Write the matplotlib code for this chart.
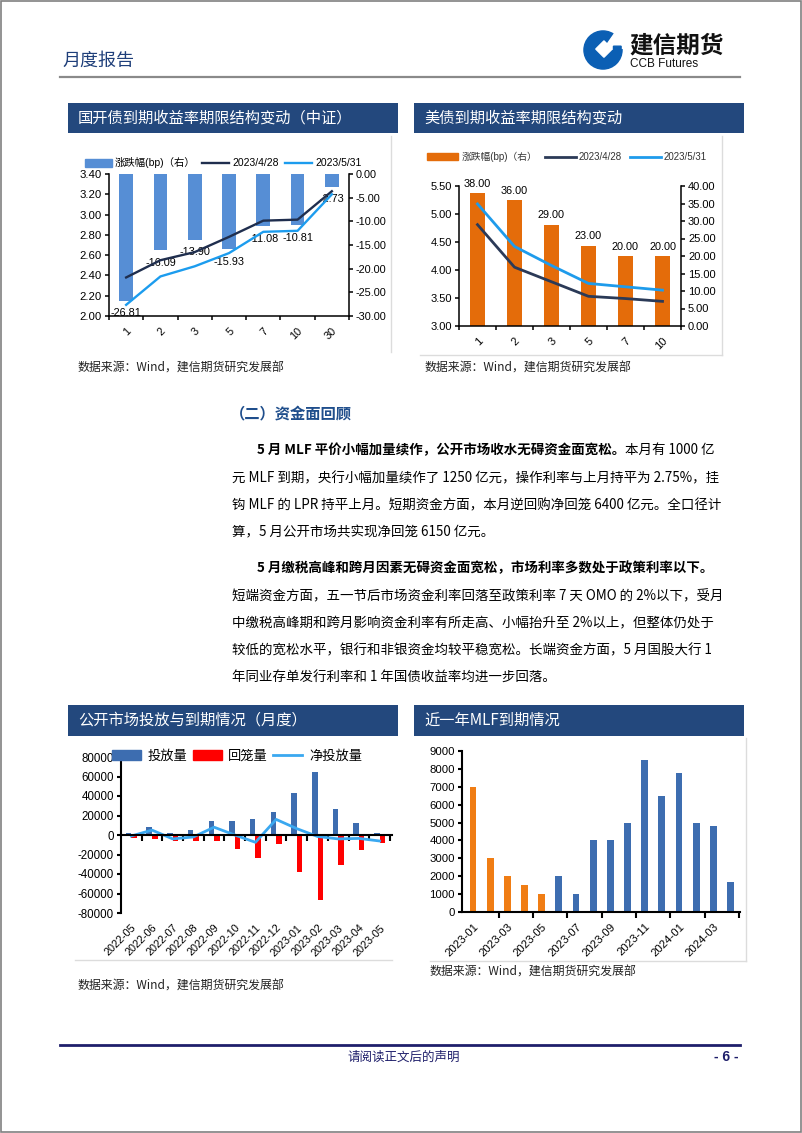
import numpy as np
import matplotlib
matplotlib.use("Agg")
import matplotlib.pyplot as plt
from matplotlib.patches import Rectangle, Patch, Circle, Polygon, Wedge
from matplotlib.lines import Line2D
from matplotlib.text import Annotation
from matplotlib.ticker import FormatStrFormatter

plt.rcParams['font.family'] = ['Liberation Sans', 'Noto Sans CJK SC']
plt.rcParams['axes.unicode_minus'] = False

W, H = 802, 1133
CJK = ['Noto Sans CJK SC', 'DejaVu Sans']

# === data ===
cdb_tenors = ['1', '2', '3', '5', '7', '10', '30']
cdb_0428 = [2.38, 2.55, 2.63, 2.78, 2.94, 2.95, 3.23]
cdb_0531 = [2.11, 2.39, 2.49, 2.62, 2.83, 2.84, 3.20]
cdb_chg = [-26.81, -16.09, -13.90, -15.93, -11.08, -10.81, -2.73]

ust_tenors = ['1', '2', '3', '5', '7', '10']
ust_0428 = [4.81, 4.05, 3.79, 3.53, 3.49, 3.44]
ust_0531 = [5.18, 4.42, 4.08, 3.76, 3.70, 3.64]
ust_chg = [38.00, 36.00, 29.00, 23.00, 20.00, 20.00]

omo_months = ['2022-05', '2022-06', '2022-07', '2022-08', '2022-09', '2022-10', '2022-11',
              '2022-12', '2023-01', '2023-02', '2023-03', '2023-04', '2023-05']
omo_inject = [2000, 8000, 2000, 5000, 14000, 14000, 16000, 24000, 43000, 65000, 26500, 12000, 2350]
omo_withdraw = [-3000, -4000, -6000, -6000, -6500, -14500, -24000, -9600, -37600, -66700, -31000, -15700, -8500]
omo_net = [-1000, 5000, -4000, -2000, 8000, 0, -7500, 16000, 6500, -1500, -4000, -3500, -6150]

mlf_months = ['2023-01', '2023-02', '2023-03', '2023-04', '2023-05', '2023-06', '2023-07', '2023-08',
              '2023-09', '2023-10', '2023-11', '2023-12', '2024-01', '2024-02', '2024-03', '2024-04']
mlf_maturity = [7000, 3000, 2000, 1500, 1000, 2000, 1000, 4000, 4000, 5000, 8500, 6500, 7790, 4990, 4810, 1700]
report_month = '2023-05'

para1 = [
    "元 MLF 到期，央行小幅加量续作了 1250 亿元，操作利率与上月持平为 2.75%，挂",
    "钩 MLF 的 LPR 持平上月。短期资金方面，本月逆回购净回笼 6400 亿元。全口径计",
    "算，5 月公开市场共实现净回笼 6150 亿元。",
]
para2 = [
    "短端资金方面，五一节后市场资金利率回落至政策利率 7 天 OMO 的 2%以下，受月",
    "中缴税高峰期和跨月影响资金利率有所走高、小幅抬升至 2%以上，但整体仍处于",
    "较低的宽松水平，银行和非银资金均较平稳宽松。长端资金方面，5 月国股大行 1",
    "年同业存单发行利率和 1 年国债收益率均进一步回落。",
]

NAVY = '#23487D'


def fx(x):
    return x / W


def fy(y):
    return 1 - y / H


def box(x0, y0, x1, y1):
    return [fx(x0), fy(y1), (x1 - x0) / W, (y1 - y0) / H]


fig = plt.figure(figsize=(W / 100, H / 100), dpi=100)


def hline(x0, x1, y, **kw):
    fig.add_artist(Line2D([fx(x0), fx(x1)], [fy(y), fy(y)], transform=fig.transFigure, **kw))


def vline(x, y0, y1, **kw):
    fig.add_artist(Line2D([fx(x), fx(x)], [fy(y0), fy(y1)], transform=fig.transFigure, **kw))


def title_bar(x0, x1, y0, y1, text):
    fig.add_artist(Rectangle((fx(x0), fy(y1)), (x1 - x0) / W, (y1 - y0) / H,
                             transform=fig.transFigure, color=NAVY, lw=0))
    fig.text(fx(x0 + 10), fy((y0 + y1) / 2), text, color='white', fontsize=11,
             family=CJK, va='center', ha='left')


# page frame, header, footer
fig.add_artist(Rectangle((0.0008, 0.0006), 0.9984, 0.9988, transform=fig.transFigure,
                         fill=False, edgecolor='#808080', lw=1.2))
fig.text(fx(62), fy(61), "月度报告", fontsize=13, color='#1F3F7A', family=CJK, va='center')
hline(60, 740, 77, color='#8a8a8a', lw=1.6)

logo = fig.add_axes(box(583, 30, 623, 70))
logo.set_xlim(-1.05, 1.05)
logo.set_ylim(-1.05, 1.05)
logo.set_aspect('equal')
logo.axis('off')
logo.add_patch(Circle((0, 0), 1.0, color='#0B5FB4'))
logo.add_patch(Wedge((0, 0), 1.1, 5, 55, width=0.7, color='white'))
logo.add_patch(Polygon([(0.05, 0.48), (0.48, 0.05), (0.05, -0.38), (-0.38, 0.05)], color='white'))
logo.add_patch(Polygon([(0.55, 0.2), (0.95, 0.2), (0.95, -0.2), (0.55, -0.05)], color='#0B5FB4'))
fig.text(fx(629), fy(46), "建信期货", fontsize=17, weight='bold', family=CJK, va='center', color='#111111')
fig.text(fx(630), fy(64), "CCB Futures", fontsize=8.5, va='center', color='#111111')

hline(60, 740, 1045, color='#1F1F6B', lw=2)
fig.text(fx(404), fy(1057), "请阅读正文后的声明", fontsize=9, family=CJK, color='#1F1F6B',
         ha='center', va='center')
fig.text(fx(739), fy(1057), "- 6 -", fontsize=10, color='#1F1F6B', ha='right', va='center', weight='bold')

# chart title bars
title_bar(68, 398, 103, 133, "国开债到期收益率期限结构变动（中证）")
title_bar(414, 744, 103, 133, "美债到期收益率期限结构变动")
title_bar(68, 398, 705, 736, "公开市场投放与到期情况（月度）")
title_bar(414, 744, 705, 736, "近一年MLF到期情况")

# light panel borders
vline(391, 136, 352, color='#dcdcdc', lw=1)
vline(722, 136, 355, color='#dcdcdc', lw=1)
hline(420, 722, 355, color='#dcdcdc', lw=1)
hline(75, 392, 960, color='#dcdcdc', lw=1)
hline(430, 746, 961, color='#dcdcdc', lw=1)
vline(746, 738, 961, color='#dcdcdc', lw=1)

src = "数据来源：Wind，建信期货研究发展部"
fig.text(fx(78), fy(368), src, fontsize=8.6, family=CJK, style='italic', va='center', color='#222222')
fig.text(fx(424), fy(368), src, fontsize=8.6, family=CJK, style='italic', va='center', color='#222222')
fig.text(fx(77), fy(986), src, fontsize=8.6, family=CJK, style='italic', va='center', color='#222222')
fig.text(fx(430), fy(972), src, fontsize=8.6, family=CJK, style='italic', va='center', color='#222222')


def style_axes(ax, lw=1.1, size=8):
    for s in ['top', 'right', 'left', 'bottom']:
        ax.spines[s].set_visible(False)
    ax.tick_params(colors='black', labelsize=size, width=lw, length=3, pad=2)


# === chart 1: CDB curve ===
x1 = np.arange(len(cdb_tenors))
axb1 = fig.add_axes(box(109, 174, 349, 316))
axl1 = axb1.twinx()
axb1.yaxis.tick_right()
axl1.yaxis.tick_left()
style_axes(axb1, size=7.8)
style_axes(axl1, size=8.2)
axb1.spines['right'].set_visible(True)
axb1.spines['bottom'].set_visible(True)
axl1.spines['left'].set_visible(True)
for ax in (axb1, axl1):
    ax.spines['right'].set_linewidth(1.1)
    ax.spines['left'].set_linewidth(1.1)
    ax.spines['bottom'].set_linewidth(1.1)
bars1 = axb1.bar(x1, cdb_chg, width=0.4, color='#568ED5', zorder=1)
axb1.set_ylim(-30, 0)
axb1.set_yticks(np.arange(-30, 0.1, 5))
axb1.yaxis.set_major_formatter(FormatStrFormatter('%.2f'))
for xi, v in zip(x1, cdb_chg):
    axb1.annotate(f"{v:.2f}", (xi, v), xytext=(0, -9), textcoords='offset points',
                  ha='center', va='center', fontsize=7.8)
l1a, = axl1.plot(x1, cdb_0428, color='#1F2E4E', lw=1.7)
l1b, = axl1.plot(x1, cdb_0531, color='#1C9CEE', lw=1.7)
axl1.set_ylim(2.0, 3.4)
axl1.set_yticks(np.arange(2.0, 3.41, 0.2))
axl1.yaxis.set_major_formatter(FormatStrFormatter('%.2f'))
axb1.set_xlim(-0.5, len(x1) - 0.5)
axb1.set_xticks(x1)
axb1.set_xticklabels(cdb_tenors, rotation=45, ha='right', rotation_mode='anchor')
axb1.tick_params(axis='x', which='major', length=0, pad=7)
axb1.set_xticks(np.arange(-0.5, len(x1), 1), minor=True)
axb1.tick_params(axis='x', which='minor', length=3, width=1.1)
fig.legend([Patch(color='#568ED5'), l1a, l1b], ["涨跌幅(bp)（右）", "2023/4/28", "2023/5/31"],
           loc='center', bbox_to_anchor=(fx(223), fy(163)), ncol=3, frameon=False,
           fontsize=7.5, handlelength=2.6, handletextpad=0.3, columnspacing=0.6)

# === chart 2: UST curve ===
x2 = np.arange(len(ust_tenors))
axb2 = fig.add_axes(box(459, 186, 681, 326))
axl2 = axb2.twinx()
axb2.yaxis.tick_right()
axl2.yaxis.tick_left()
style_axes(axb2)
style_axes(axl2)
axb2.spines['right'].set_visible(True)
axb2.spines['bottom'].set_visible(True)
axl2.spines['left'].set_visible(True)
for ax in (axb2, axl2):
    ax.spines['right'].set_linewidth(1.1)
    ax.spines['left'].set_linewidth(1.1)
    ax.spines['bottom'].set_linewidth(1.1)
axb2.bar(x2, ust_chg, width=0.4, color='#E46C0A')
axb2.set_ylim(0, 40)
axb2.set_yticks(np.arange(0, 40.1, 5))
axb2.yaxis.set_major_formatter(FormatStrFormatter('%.2f'))
for xi, v in zip(x2, ust_chg):
    axb2.annotate(f"{v:.2f}", (xi, v), xytext=(0, 3), textcoords='offset points',
                  ha='center', va='bottom', fontsize=7.8)
l2a, = axl2.plot(x2, ust_0428, color='#2B3A57', lw=2)
l2b, = axl2.plot(x2, ust_0531, color='#1E9BEB', lw=2)
axl2.set_ylim(3.0, 5.5)
axl2.set_yticks(np.arange(3.0, 5.51, 0.5))
axl2.yaxis.set_major_formatter(FormatStrFormatter('%.2f'))
axb2.set_xlim(-0.5, len(x2) - 0.5)
axb2.set_xticks(x2)
axb2.set_xticklabels(ust_tenors, rotation=45, ha='right', rotation_mode='anchor')
axb2.tick_params(axis='x', which='major', length=0, pad=7)
axb2.set_xticks(np.arange(-0.5, len(x2), 1), minor=True)
axb2.tick_params(axis='x', which='minor', length=3, width=1.1)
fig.legend([Patch(color='#E46C0A'), l2a, l2b], ["涨跌幅(bp)（右）", "2023/4/28", "2023/5/31"],
           loc='center', bbox_to_anchor=(fx(567), fy(157)), ncol=3, frameon=False,
           fontsize=7, handlelength=3.2, handletextpad=0.3, columnspacing=0.8,
           labelcolor='#333333')

# === chart 3: OMO monthly ===
x3 = np.arange(len(omo_months))
ax3 = fig.add_axes(box(121, 757, 392, 913))
style_axes(ax3, lw=1.5)
ax3.spines['left'].set_visible(True)
ax3.spines['left'].set_linewidth(1.5)
ax3.spines['bottom'].set_visible(True)
ax3.spines['bottom'].set_linewidth(1.5)
ax3.spines['bottom'].set_position(('data', 0))
ax3.bar(x3 - 0.27, omo_inject, width=0.27, align='edge', color='#3D6DB0')
ax3.bar(x3, omo_withdraw, width=0.27, align='edge', color='#FF0000')
ln3, = ax3.plot(x3, omo_net, color='#3AA8F0', lw=2)
ax3.set_ylim(-80000, 80000)
ax3.set_yticks(np.arange(-80000, 80001, 20000))
ax3.set_xlim(-0.5, len(x3) - 0.4)
ax3.set_xticks(np.arange(0.5, len(x3), 1))
ax3.set_xticklabels([])
ax3.tick_params(axis='x', length=4, width=1.5, direction='out')
ax3.tick_params(axis='y', labelsize=8.3)
sec3 = ax3.secondary_xaxis(0)
sec3.spines['bottom'].set_visible(False)
sec3.set_xticks(x3)
sec3.set_xticklabels(omo_months, rotation=45, ha='right', rotation_mode='anchor')
sec3.tick_params(length=0, pad=7, labelsize=7.8)
fig.legend([Patch(color='#3D6DB0'), Patch(color='#FF0000'), ln3], ["投放量", "回笼量", "净投放量"],
           loc='center', bbox_to_anchor=(fx(237), fy(756)), ncol=3, frameon=False,
           handlelength=2.2, handletextpad=0.5, columnspacing=0.4, prop={'family': CJK, 'size': 9.5})

# === chart 4: MLF maturity ===
x4 = np.arange(len(mlf_months))
ax4 = fig.add_axes(box(462, 751, 740, 912))
style_axes(ax4, lw=1.5)
ax4.spines['left'].set_visible(True)
ax4.spines['left'].set_linewidth(1.5)
ax4.spines['bottom'].set_visible(True)
ax4.spines['bottom'].set_linewidth(1.5)
mlf_colors = ['#F07D14' if m <= report_month else '#3D6DB0' for m in mlf_months]
ax4.bar(x4, mlf_maturity, width=0.4, color=mlf_colors)
ax4.set_ylim(0, 9000)
ax4.set_yticks(np.arange(0, 9001, 1000))
ax4.set_xlim(-0.64, len(x4) - 0.45)
ax4.set_xticks(x4[::2])
ax4.set_xticklabels(mlf_months[::2], rotation=45, ha='right', rotation_mode='anchor')
ax4.tick_params(axis='x', which='major', length=0, pad=7, labelsize=8.2)
ax4.set_xticks(np.arange(1.5, len(x4), 2), minor=True)
ax4.tick_params(axis='x', which='minor', length=4, width=1.5)
ax4.tick_params(axis='y', labelsize=8.2)

# === text section ===
fig.text(fx(230), fy(413), "（二）资金面回顾", fontsize=11, weight='bold', family=CJK,
         color='#1F4E8C', va='center')

BODY = 9.7


def mixed_line(x, y, bold_part, rest):
    t = fig.text(fx(x), fy(y), bold_part, fontsize=BODY, weight='bold', family=CJK, va='center')
    if rest:
        fig.add_artist(Annotation(rest, xy=(1, 0.5), xycoords=t, va='center', ha='left',
                                  fontsize=BODY, family=CJK))


mixed_line(257, 450, "5 月 MLF 平价小幅加量续作，公开市场收水无碍资金面宽松。", "本月有 1000 亿")
for i, s in enumerate(para1):
    fig.text(fx(232), fy(478 + i * 27.3), s, fontsize=BODY, family=CJK, va='center')
mixed_line(257, 568, "5 月缴税高峰和跨月因素无碍资金面宽松，市场利率多数处于政策利率以下。", "")
for i, s in enumerate(para2):
    fig.text(fx(232), fy(596 + i * 27.4), s, fontsize=BODY, family=CJK, va='center')

fig.savefig("out.png", dpi=100)
